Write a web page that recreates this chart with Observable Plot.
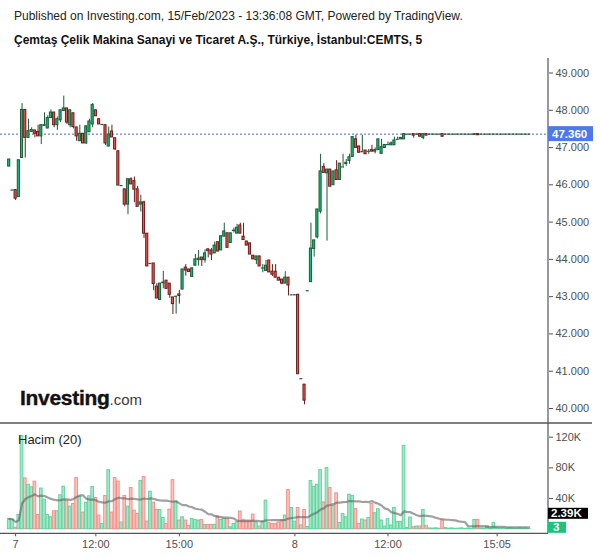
<!DOCTYPE html>
<html><head><meta charset="utf-8">
<script src="https://cdn.jsdelivr.net/npm/d3@7"></script>
<script src="https://cdn.jsdelivr.net/npm/@observablehq/plot@0.6"></script>
<style>
body{margin:0;background:#fff;font-family:'Liberation Sans',Arial,sans-serif;}
#wrap{position:relative;width:600px;height:558px;overflow:hidden;background:#fff;}
.abs{position:absolute;white-space:nowrap;}
</style></head><body><div id="wrap"></div>
<script>
const publishedLine = "Published on Investing.com, 15/Feb/2023 - 13:36:08 GMT, Powered by TradingView.";
const titleLine = "Çemtaş Çelik Makina Sanayi ve Ticaret A.Ş., Türkiye, İstanbul:CEMTS, 5";
const volumeTitle = "Hacim (20)";

const opens = [
46.49,45.86,45.86,45.67,46.72,48.01,47.26,47.42,47.46,47.42,
47.30,47.58,47.51,47.79,47.94,47.60,47.73,47.98,48.05,47.60,
47.92,47.54,47.17,47.37,47.11,47.41,47.62,48.00,47.76,47.62,
47.60,47.03,47.43,47.25,46.90,45.98,45.88,45.47,46.15,46.10,
45.88,45.47,45.53,44.69,43.89,43.89,43.27,42.91,43.36,43.43,
43.35,42.98,43.01,43.06,43.19,43.78,43.73,43.53,43.83,43.98,
44.05,43.98,44.27,44.24,44.16,44.46,44.24,44.61,44.70,44.44,
44.76,44.69,44.91,44.61,44.48,44.43,44.10,43.98,44.08,43.77,
43.69,43.97,43.67,43.67,43.51,43.46,43.35,43.51,43.05,43.05,
43.05,40.80,40.64,43.16,43.39,44.28,44.59,45.28,46.48,46.31,
46.41,45.99,46.39,46.13,46.48,46.56,46.64,46.75,47.22,47.03,
46.89,46.92,46.90,46.93,46.89,46.93,46.83,46.99,47.08,47.06,
47.06,47.22,47.22,47.22,47.36,47.36,47.36,47.36,47.36,47.26,
47.36,47.36,47.36,47.36,47.36,47.36,47.36,47.36,47.36,47.36,
47.36,47.36,47.36,47.36,47.36,47.34,47.36,47.36,47.36,47.36,
47.36,47.36,47.36,47.36,47.36,47.36,47.36,47.36,47.36,47.36,
47.36,47.36,47.36];
const highs = [
46.68,45.86,45.86,46.66,48.18,48.01,47.76,47.53,47.46,47.60,
47.60,47.93,47.85,48.01,47.94,47.82,48.00,48.38,48.05,48.00,
47.92,47.54,47.60,47.37,47.57,47.76,48.18,48.00,47.76,47.62,
47.60,47.55,47.60,47.25,46.90,45.98,45.88,46.15,46.19,46.21,
45.96,45.72,45.56,44.69,43.89,43.89,43.35,43.35,43.68,43.43,
43.35,42.98,43.01,43.17,43.73,43.86,43.73,43.76,44.13,44.24,
44.05,44.26,44.27,44.29,44.46,44.46,44.62,44.97,44.70,44.70,
44.84,44.94,44.97,44.97,44.48,44.43,44.10,44.08,44.08,43.86,
43.97,43.97,43.86,43.86,43.51,43.46,43.67,43.51,43.05,43.05,
43.05,40.80,40.64,43.16,44.97,44.51,45.34,46.82,46.57,46.41,
46.41,46.36,46.65,46.57,46.82,46.68,46.82,47.28,47.33,47.03,
47.33,46.92,46.95,47.06,46.99,47.22,47.22,47.07,47.15,47.15,
47.28,47.28,47.26,47.36,47.36,47.36,47.36,47.38,47.36,47.36,
47.36,47.36,47.36,47.36,47.36,47.36,47.36,47.36,47.36,47.36,
47.36,47.36,47.36,47.36,47.36,47.36,47.36,47.36,47.36,47.36,
47.36,47.36,47.36,47.36,47.36,47.36,47.36,47.36,47.36,47.36,
47.36,47.36,47.36];
const lows = [
46.49,45.86,45.58,45.67,46.72,46.72,47.25,47.42,47.26,47.30,
47.08,47.58,47.51,47.79,47.53,47.46,47.67,47.98,47.62,47.53,
47.50,47.17,47.17,47.11,47.08,47.41,47.53,47.84,47.62,47.62,
47.06,47.01,47.27,46.92,45.98,45.98,45.41,45.20,46.01,45.52,
45.41,45.27,44.56,43.81,43.89,43.16,42.95,42.91,43.21,43.21,
42.96,42.52,42.53,42.80,43.19,43.55,43.66,43.52,43.83,43.82,
43.81,43.90,44.04,43.97,44.16,44.21,44.24,44.61,44.31,44.44,
44.71,44.69,44.69,44.52,44.37,44.13,44.00,43.86,43.81,43.64,
43.69,43.65,43.54,43.51,43.43,43.32,43.35,43.02,43.05,43.05,
40.92,40.80,40.10,43.16,43.39,44.06,44.55,45.22,46.32,44.49,
45.95,45.99,46.13,46.13,46.48,46.50,46.55,46.75,46.99,46.86,
46.89,46.82,46.82,46.89,46.83,46.93,46.83,46.99,47.08,47.06,
47.06,47.22,47.22,47.22,47.36,47.36,47.25,47.36,47.29,47.21,
47.32,47.36,47.36,47.36,47.36,47.29,47.36,47.36,47.36,47.36,
47.36,47.36,47.36,47.36,47.36,47.34,47.33,47.36,47.36,47.36,
47.36,47.36,47.36,47.36,47.36,47.36,47.36,47.36,47.36,47.36,
47.36,47.36,47.36];
const closes = [
46.68,45.86,45.63,46.66,48.01,47.26,47.44,47.47,47.37,47.30,
47.60,47.60,47.79,47.94,47.60,47.76,48.00,48.05,47.67,48.00,
47.55,47.30,47.37,47.11,47.57,47.70,48.14,47.84,47.62,47.62,
47.11,47.35,47.27,46.95,45.98,45.98,45.47,46.15,46.01,45.87,
45.41,45.53,44.69,43.81,43.89,43.34,42.95,43.35,43.38,43.21,
43.05,42.80,43.01,43.02,43.73,43.70,43.66,43.76,44.00,44.02,
43.98,44.16,44.22,44.13,44.37,44.21,44.62,44.75,44.31,44.70,
44.77,44.85,44.69,44.52,44.37,44.13,44.00,44.08,43.81,43.77,
43.83,43.65,43.59,43.51,43.43,43.35,43.51,43.30,43.05,43.05,
40.92,40.80,40.21,43.16,44.29,44.51,45.34,46.36,46.32,46.41,
45.95,46.36,46.13,46.57,46.48,46.59,46.74,47.28,46.99,46.86,
46.89,46.82,46.90,46.89,46.93,47.22,47.01,47.07,47.08,47.11,
47.19,47.22,47.26,47.36,47.36,47.36,47.32,47.36,47.29,47.36,
47.32,47.36,47.36,47.36,47.36,47.29,47.36,47.36,47.36,47.36,
47.36,47.36,47.36,47.36,47.36,47.36,47.33,47.36,47.36,47.36,
47.36,47.36,47.36,47.36,47.36,47.36,47.36,47.36,47.36,47.36,
47.36,47.36,47.36];
const volumes = [
13400,12600,2000,18600,121700,66300,58000,54600,62000,18600,
53000,38500,18600,15600,23400,23400,44200,55400,37200,29400,
32900,66700,42400,21700,34600,42900,55000,40700,17800,6900,
43300,77000,21700,66700,62000,8700,43300,29400,53700,24200,
19900,62800,68000,10000,48900,34600,25100,25100,14700,6900,
25500,64000,36000,11300,15600,11300,4300,13400,12100,11300,
12100,5600,5600,5600,5600,16500,12100,13400,13000,2600,
6900,9100,23000,12100,11300,11300,19000,8700,3500,9500,
37200,7800,6900,6900,8700,11300,17800,51000,27700,10000,
27700,5000,25100,3000,62800,55400,58000,77000,35000,79700,
53700,30000,46800,8200,19900,15600,45000,43300,26400,6900,
12600,11300,14700,32900,20800,26000,11300,3500,13000,4800,
27700,9500,9500,108700,1700,15200,2600,3500,3500,25100,
4300,1000,800,1200,600,11300,1500,800,1000,500,
700,1200,400,900,600,12100,12100,1000,800,4000,
500,8200,1000,600,800,400,1200,700,500,1000,
600,800,3];

const priceTicks = [40,41,42,43,44,45,46,47,48,49];
const volumeTicks = [40000,80000,120000];
const timeTickIndex = [2,27,53,89,118,152];
const timeTickLabels = ["7","12:00","15:00","8","12:00","15:05"];
const lastPrice = 47.36;
const maLength = 20;

const bars = opens.map((o,i)=>({i,o,h:highs[i],l:lows[i],c:closes[i],v:volumes[i],up:closes[i]>=o}));

const upFill="#12c377", upLine="#1d5a38", dnFill="#f2574f", dnLine="#6a1c1c";
const vUpFill="#a4e8c8", vUpLine="#62d49f", vDnFill="#fcc2be", vDnLine="#f2928c";
const xDomain=[-2.71,168.0];
const font="'Liberation Sans', Arial, sans-serif";
const wrap=document.getElementById("wrap");

function addText(txt, left, top, css){
  const d=document.createElement("div"); d.className="abs"; d.textContent=txt;
  d.style.left=left+"px"; d.style.top=top+"px"; Object.assign(d.style,css); wrap.appendChild(d); return d;
}
addText(publishedLine, 14, 9, {fontSize:"12px", color:"#222", fontFamily:font});
addText(titleLine, 14, 33, {fontSize:"12px", fontWeight:"bold", color:"#111", fontFamily:font});

// price pane
const pricePlot = Plot.plot({
  width:600, height:372, marginLeft:0, marginRight:52, marginTop:22.5, marginBottom:14,
  style:{fontFamily:font, fontSize:"11px", color:"#505050", background:"transparent", overflow:"visible"},
  color:{type:"identity"},
  x:{domain:xDomain, axis:null},
  y:{domain:[40,49], axis:"right", ticks:priceTicks, tickFormat:d3.format(".3f"), tickSize:4, tickPadding:3, label:null},
  marks:[
    Plot.ruleY([lastPrice],{stroke:"#3f63dc", strokeDasharray:"2,2", strokeWidth:1}),
    Plot.ruleX(bars,{x:"i", y1:"l", y2:"h", stroke:d=>d.up?upLine:dnLine, strokeWidth:1}),
    Plot.rect(bars.filter(d=>d.o!==d.c),{x1:d=>d.i-0.33, x2:d=>d.i+0.33, y1:"o", y2:"c", fill:d=>d.up?upFill:dnFill, stroke:d=>d.up?upLine:dnLine, strokeWidth:1}),
    Plot.ruleY(bars.filter(d=>d.o===d.c),{y:"o", x1:d=>d.i-0.45, x2:d=>d.i+0.45, stroke:upLine, strokeWidth:1.2})
  ]
});
pricePlot.style.position="absolute"; pricePlot.style.left="0px"; pricePlot.style.top="50px";
wrap.appendChild(pricePlot);
{
  const s=d3.select(pricePlot);
  const ys=pricePlot.scale("y");
  s.append("line").attr("x1",548).attr("x2",548).attr("y1",8).attr("y2",372).attr("stroke","#555").attr("stroke-width",1.2);
  const yp=ys.apply(lastPrice);
  s.append("rect").attr("x",548).attr("y",yp-7.5).attr("width",45).attr("height",15).attr("fill","#4e79e6");
  s.append("text").attr("x",552).attr("y",yp).attr("dy","0.36em").attr("text-anchor","start").attr("fill","#fff").attr("font-weight","bold")
    .attr("font-size","11.5px").attr("font-family",font).text(d3.format(".3f")(lastPrice));
}

// volume pane
const volPlot = Plot.plot({
  width:600, height:136, marginLeft:0, marginRight:52, marginTop:14.7, marginBottom:24.7,
  style:{fontFamily:font, fontSize:"11px", color:"#505050", background:"transparent", overflow:"visible"},
  color:{type:"identity"},
  x:{domain:xDomain, ticks:timeTickIndex, tickFormat:d=>timeTickLabels[timeTickIndex.indexOf(d)], tickSize:3, tickPadding:3, label:null},
  y:{domain:[-6000,120000], axis:"right", ticks:volumeTicks, tickFormat:d=>(d/1000)+"K", tickSize:4, tickPadding:3, label:null},
  marks:[
    Plot.rect(bars,{x1:d=>d.i-0.42, x2:d=>d.i+0.42, y1:()=>0, y2:"v", fill:d=>d.up?vUpFill:vDnFill, stroke:d=>d.up?vUpLine:vDnLine, strokeWidth:1}),
    Plot.lineY(bars, Plot.windowY({k:maLength, anchor:"end", reduce:"mean"},{x:"i", y:"v", stroke:"#606060", strokeOpacity:0.6, strokeWidth:2.2}))
  ]
});
volPlot.style.position="absolute"; volPlot.style.left="0px"; volPlot.style.top="422px";
wrap.appendChild(volPlot);
{
  const s=d3.select(volPlot);
  const ys=volPlot.scale("y");
  const axisY=ys.apply(-6000);
  s.append("line").attr("x1",0).attr("x2",592).attr("y1",1).attr("y2",1).attr("stroke","#555").attr("stroke-width",1.5);
  s.append("line").attr("x1",548).attr("x2",548).attr("y1",0).attr("y2",axisY).attr("stroke","#555").attr("stroke-width",1.2);
  s.append("line").attr("x1",0).attr("x2",548).attr("y1",axisY).attr("y2",axisY).attr("stroke","#555").attr("stroke-width",1.2);
  const lastVol=volumes[volumes.length-1];
  const ma=d3.mean(volumes.slice(-maLength));
  const c3=Math.min(ys.apply(lastVol), axisY-6);
  const cMa=Math.min(ys.apply(ma), c3-14);
  s.append("rect").attr("x",548).attr("y",cMa-5.5).attr("width",40).attr("height",11).attr("fill","#000");
  s.append("text").attr("x",551).attr("y",cMa).attr("dy","0.36em").attr("text-anchor","start").attr("fill","#fff").attr("font-weight","bold")
    .attr("font-size","11.5px").attr("font-family",font).text((ma/1000).toFixed(2)+"K");
  const lastUp=bars[bars.length-1].up;
  s.append("rect").attr("x",548).attr("y",c3-5.5).attr("width",18).attr("height",11).attr("fill",lastUp?"#19c47c":"#f2574f");
  s.append("text").attr("x",553).attr("y",c3).attr("dy","0.36em").attr("text-anchor","start").attr("fill","#fff").attr("font-weight","bold")
    .attr("font-size","11.5px").attr("font-family",font).text(String(lastVol));
}
addText(volumeTitle, 18, 432, {fontSize:"13px", color:"#222", fontFamily:font});

// watermark
const wm=document.createElement("div"); wm.className="abs"; wm.style.left="20px"; wm.style.top="386px"; wm.style.fontFamily=font;
wm.innerHTML='<span style="font-size:21px;font-weight:bold;color:#111;letter-spacing:-0.3px;-webkit-text-stroke:0.4px #111">Investing</span><span style="font-size:15px;color:#3a3a3a">.com</span>';
wrap.appendChild(wm);
</script></body></html>
